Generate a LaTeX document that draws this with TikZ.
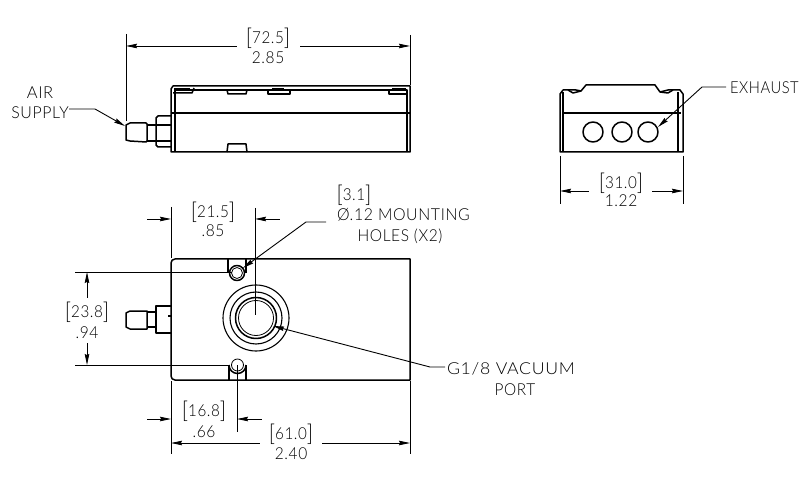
\documentclass[tikz,border=0pt]{standalone}
\usepackage{graphicx}
\usepackage{fontspec}
\setmainfont{Lato Light}[LetterSpace=4]
\usetikzlibrary{arrows.meta}
\newcommand\bracketed[1]{\raisebox{-1.5pt}{\fontsize{23}{23}\selectfont[}#1\raisebox{-1.5pt}{\fontsize{23}{23}\selectfont]}}
\newcommand\squeeze[2]{\scalebox{#1}[1]{#2}}
\tikzset{
  every node/.style={inner sep=0pt,outer sep=0pt,font=\fontsize{16.5}{18}\selectfont},
  outline/.style={line width=1.5pt,black,line join=round},
  fine/.style={line width=0.8pt,black},
  thin line/.style={line width=0.9pt,black},
  tipped/.style={line width=0.9pt,black,-{Stealth[length=11pt,width=4.5pt,inset=1pt]}},
  dimtwo/.style={line width=0.9pt,black,{Stealth[length=11pt,width=4.5pt,inset=1pt]}-}
}
\begin{document}
\begin{tikzpicture}[x=1pt,y=-1pt]
\useasboundingbox (0,0) rectangle (811,478);
\fill[white] (0,0) rectangle (811,478);

% ---- side view ----
\draw[outline] (171,152) -- (171,89) -- (173,86) -- (410,86) -- (410,152) -- cycle;
\draw[outline] (175,90) -- (407,90) -- (407,152);
\draw[outline] (175,88) -- (175,152);
\draw[outline] (171,113) -- (410,113);
\draw[outline] (173,93) -- (192,93) -- (194,88);
\draw[fine] (176,88) -- (190,88);
\draw[outline] (227,90) -- (228,94) -- (246,94) -- (247,90);
\draw[outline] (268,90) -- (268,94) -- (290,94) -- (290,90);
\draw[fine] (272,88) -- (284,88);
\draw[outline] (389,90) -- (389,94) -- (407,94);
\draw[fine] (392,88) -- (406,88);
\draw[outline] (227,152) -- (228,144) -- (246,144) -- (247,152);
% fitting
\draw[outline] (171,116) -- (158,116) -- (156,118) -- (156,145) -- (158,147) -- (171,147);
\draw[outline] (156,125) -- (171,125) (156,141) -- (171,141);
\draw[outline] (156,125) -- (147,125) (156,141) -- (147,141);
\draw[outline] (147,124) -- (146,123) -- (130,123) -- (126,125) -- (126,140) -- (130,141) -- (146,142) -- (147,141) -- cycle;

% ---- end view ----
\draw[outline] (560,152) -- (560,94) -- (563,90) -- (576,90) -- (581,91) -- (586,85) -- (655,85) -- (660,92) -- (668,90) -- (680,90) -- (683,94) -- (683,152) -- cycle;
\draw[outline] (563,92) -- (563,152) (678,92) -- (678,152);
\draw[outline] (562,113) -- (681,113);
\draw[outline] (568,90) -- (573,93) -- (581,91);
\draw[outline] (660,92) -- (668,93) -- (673,90);
\draw[outline] (593,132) circle (10) (622,132) circle (10) (648,132) circle (10);

% ---- plan view ----
\draw[outline] (175,259) -- (410,259) -- (410,380) -- (175,380) arc[start angle=90,end angle=180,radius=4] -- (171,263) arc[start angle=180,end angle=270,radius=4];
\draw[outline] (228,259) -- (228,273) (246,259) -- (246,273);
\draw[outline] (237,273) circle (7.5);
\draw[fine] (237,273) circle (5.5);
\draw[outline] (229,380) -- (229,365) (246,380) -- (246,365);
\draw[outline] (229,365) arc[start angle=180,end angle=0,radius=8.5];
\draw[fine] (237.5,365) circle (6);
\draw[line width=1.1pt] (256,318) circle (33);
\draw[line width=1.1pt] (256,318) circle (26);
\draw[outline] (256,318) circle (20.5);
\draw[fine] (256,318) circle (17.5);
% plan fitting
\draw[outline] (171,306) -- (156,306) -- (156,333) -- (171,333);
\draw[outline] (156,312) -- (147,312) (156,327) -- (147,327);
\draw[outline] (147,311) -- (130,311) -- (126,313) -- (126,327) -- (130,329) -- (147,329) -- cycle;
\draw[outline] (168,316) -- (171,316);

% ---- text ----
\node (airtext) at (40,93) {AIR};
\node (supplytext) at (40,113) {\squeeze{.96}{SUPPLY}};
\node (d72a) at (268,38) {\squeeze{.92}{\bracketed{72.5}}};
\node (d72b) at (268,58) {\squeeze{.94}{2.85}};
\node (exhausttext) [anchor=west] at (730,88) {\squeeze{.89}{EXHAUST}};
\node (d31a) at (621,183) {\squeeze{.92}{\bracketed{31.0}}};
\node (d31b) at (621,201) {\squeeze{.94}{1.22}};
\node (d21a) at (213,212) {\squeeze{.92}{\bracketed{21.5}}};
\node (d21b) at (213,231) {\squeeze{.94}{.85}};
\node (d31c) at (354,195) {\squeeze{.92}{\bracketed{3.1}}};
\node (mounttext) [anchor=west] at (337,215) {\squeeze{.96}{Ø.12 MOUNTING}};
\node (holestext) at (400,236) {\squeeze{.94}{HOLES (X2)}};
\node (d23a) at (87,312) {\squeeze{.92}{\bracketed{23.8}}};
\node (d23b) at (87,333) {\squeeze{.94}{.94}};
\node (g18text) [anchor=west] at (447,369) {\squeeze{1.07}{G1/8 VACUUM}};
\node (porttext) at (515,390) {\squeeze{.93}{PORT}};
\node (d16a) at (204,411) {\squeeze{.92}{\bracketed{16.8}}};
\node (d16b) at (204,432) {\squeeze{.94}{.66}};
\node (d61a) at (291,434) {\squeeze{.92}{\bracketed{61.0}}};
\node (d61b) at (291,454) {\squeeze{.94}{2.40}};

% ---- extension lines ----
\draw[thin line] (126,34) -- (126,121);
\draw[thin line] (410,35) -- (410,85);
\draw[thin line] (560,156) -- (560,204);
\draw[thin line] (683,156) -- (683,204);
\draw[thin line] (171,207) -- (171,258);
\draw[thin line] (255,208) -- (255,315);
\draw[thin line] (75,272) -- (232,272);
\draw[thin line] (75,365) -- (230,365);
\draw[thin line] (171,381) -- (171,454);
\draw[thin line] (410,381) -- (410,454);
\draw[thin line] (237,365) -- (237,432);

% ---- dimension lines ----
\coordinate (a72l) at (126,46); \coordinate (b72l) at (237,46);
\coordinate (b72r) at (300,46); \coordinate (a72r) at (410,46);
\draw[dimtwo] (a72l) -- (b72l);
\draw[tipped] (b72r) -- (a72r);
\coordinate (a31l) at (560,191); \coordinate (b31l) at (589,191);
\coordinate (b31r) at (652,191); \coordinate (a31r) at (683,191);
\draw[dimtwo] (a31l) -- (b31l);
\draw[tipped] (b31r) -- (a31r);
\coordinate (a21l) at (147,219); \coordinate (b21l) at (171,219);
\coordinate (a21r) at (255,219); \coordinate (b21r) at (280,219);
\draw[tipped] (a21l) -- (b21l);
\draw[dimtwo] (a21r) -- (b21r);
\coordinate (a23t) at (87,272); \coordinate (b23t) at (87,298);
\coordinate (b23b) at (87,343); \coordinate (a23b) at (87,365);
\draw[dimtwo] (a23t) -- (b23t);
\draw[tipped] (b23b) -- (a23b);
\coordinate (a16l) at (147,419); \coordinate (b16l) at (171,419);
\coordinate (a16r) at (237,419); \coordinate (b16r) at (262,419);
\draw[tipped] (a16l) -- (b16l);
\draw[dimtwo] (a16r) -- (b16r);
\coordinate (a61l) at (171,443); \coordinate (b61l) at (260,443);
\coordinate (b61r) at (322,443); \coordinate (a61r) at (410,443);
\draw[dimtwo] (a61l) -- (b61l);
\draw[tipped] (b61r) -- (a61r);

% ---- leaders ----
\coordinate (airstart) at (69,109); \coordinate (airknee) at (95,109); \coordinate (airtip) at (125,126);
\draw[tipped] (airstart) -- (airknee) -- (airtip);
\coordinate (exstart) at (726,87); \coordinate (exknee) at (702,87); \coordinate (extip) at (658,127);
\draw[tipped] (exstart) -- (exknee) -- (extip);
\coordinate (mstart) at (326,222); \coordinate (mknee) at (306,222); \coordinate (mtip) at (243,268);
\draw[tipped] (mstart) -- (mknee) -- (mtip);
\coordinate (gstart) at (445,367); \coordinate (gknee) at (430,367); \coordinate (gtip) at (273,326);
\draw[tipped] (gstart) -- (gknee) -- (gtip);
\end{tikzpicture}
\end{document}
